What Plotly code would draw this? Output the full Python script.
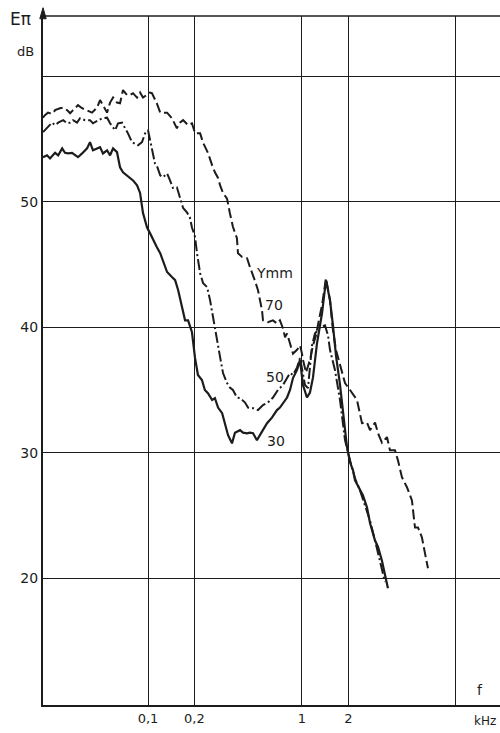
import math
import plotly.graph_objects as go

# ---- data (frequency in kHz, level in dB) ----
freq_70 = [0.0208, 0.0214, 0.0224, 0.0231, 0.0242, 0.0249, 0.0268, 0.0281, 0.0298, 0.0312,
           0.0326, 0.0351, 0.0373, 0.0402, 0.0433, 0.0467, 0.0488, 0.0510, 0.0542, 0.0567,
           0.0593, 0.0629, 0.0658, 0.0688, 0.0731, 0.0764, 0.0799, 0.0849, 0.0888, 0.0928,
           0.0986, 0.103, 0.106, 0.114, 0.120, 0.123, 0.133, 0.143, 0.154, 0.161,
           0.169, 0.182, 0.193, 0.202, 0.218, 0.228, 0.245, 0.261, 0.272, 0.285,
           0.294, 0.307, 0.326, 0.340, 0.356, 0.378, 0.384, 0.408, 0.440, 0.459,
           0.481, 0.495, 0.518, 0.533, 0.550, 0.558, 0.601, 0.648, 0.688, 0.719,
           0.753, 0.776, 0.800, 0.836, 0.874, 0.929, 0.971, 1.00, 1.015, 1.062,
           1.127, 1.179, 1.232, 1.309, 1.349, 1.410, 1.432, 1.520, 1.589, 1.662,
           1.766, 1.903, 2.051, 2.277, 2.453, 2.643, 2.765, 2.981, 3.118, 3.306,
           3.564, 3.727, 4.015, 4.199, 4.458, 4.805, 5.178, 5.418, 5.667, 6.012,
           6.290, 6.580]
db_70 = [56.7, 56.9, 57.1, 57.05, 57.05, 57.3, 57.45, 57.5, 57.3, 57.05,
         57.3, 57.7, 57.45, 57.3, 57.1, 57.5, 58.1, 57.7, 57.1, 57.9,
         58.3, 57.9, 57.85, 58.9, 58.5, 58.5, 58.65, 58.3, 58.7, 58.3,
         58.5, 58.7, 58.65, 57.85, 57.1, 57.1, 57.1, 56.65, 55.85, 56.3,
         56.5, 56.1, 56.25, 55.45, 55.45, 54.7, 53.9, 52.9, 52.35, 51.9,
         51.3, 50.7, 50.25, 49.1, 48.0, 47.1, 45.9, 45.6, 45.5, 44.8,
         44.0, 43.7, 42.95, 42.3, 41.35, 40.55, 40.4, 40.55, 40.3, 40.55,
         39.9, 39.2, 39.5, 38.7, 37.9, 38.2, 38.55, 37.9, 37.4, 36.4,
         37.4, 38.55, 39.35, 41.0, 41.75, 43.35, 43.9, 42.15, 39.75, 38.2,
         37.0, 35.55, 35.0, 34.2, 32.35, 32.4, 31.8, 32.4, 31.55, 30.8,
         31.25, 30.2, 30.2, 29.4, 28.05, 27.25, 26.2, 24.05, 24.05, 23.25,
         22.0, 20.8]

freq_50 = [0.0208, 0.0221, 0.0238, 0.0249, 0.0261, 0.0281, 0.0298, 0.0312, 0.0326, 0.0346,
           0.0362, 0.0390, 0.0420, 0.0439, 0.0474, 0.0503, 0.0542, 0.0567, 0.0611, 0.0639,
           0.0678, 0.0709, 0.0741, 0.0787, 0.0823, 0.0861, 0.0914, 0.0957, 0.100, 0.103,
           0.106, 0.111, 0.114, 0.120, 0.125, 0.133, 0.139, 0.145, 0.154, 0.161,
           0.169, 0.179, 0.187, 0.193, 0.202, 0.208, 0.218, 0.228, 0.242, 0.253,
           0.264, 0.272, 0.281, 0.294, 0.307, 0.326, 0.340, 0.356, 0.378, 0.396,
           0.427, 0.446, 0.481, 0.518, 0.558, 0.601, 0.648, 0.698, 0.753, 0.800,
           0.836, 0.874, 0.929, 0.971, 1.015, 1.046, 1.094, 1.162, 1.214, 1.309,
           1.410, 1.476, 1.520, 1.637, 1.766, 1.903, 2.051, 2.211, 2.381, 2.566,
           2.765, 2.981, 3.210, 3.458]
db_50 = [55.55, 55.9, 56.3, 56.1, 56.3, 56.5, 56.25, 56.3, 56.5, 56.3,
         56.65, 56.5, 56.5, 56.25, 56.5, 56.65, 56.7, 56.25, 55.7, 56.25,
         56.3, 55.9, 55.45, 54.75, 54.65, 54.5, 54.75, 55.45, 55.7, 54.9,
         54.35, 53.05, 52.9, 52.1, 51.95, 52.25, 51.7, 51.1, 51.15, 50.25,
         49.5, 49.15, 48.75, 47.95, 47.2, 45.9, 44.3, 43.5, 43.2, 42.15,
         40.8, 39.75, 38.8, 37.6, 36.35, 35.55, 35.2, 35.0, 34.4, 34.35,
         34.0, 33.6, 33.55, 33.4, 33.8, 34.0, 34.4, 35.0, 35.4, 35.95,
         36.35, 36.2, 36.8, 37.55, 36.2, 35.4, 35.15, 38.55, 39.5, 40.0,
         40.15, 39.35, 38.2, 36.6, 34.2, 31.0, 29.4, 27.95, 27.0, 25.8,
         24.6, 23.0, 21.4, 19.7]

freq_30 = [0.0208, 0.0221, 0.0231, 0.0249, 0.0261, 0.0277, 0.0289, 0.0303, 0.0321, 0.0336,
           0.0351, 0.0373, 0.0402, 0.0420, 0.0439, 0.0467, 0.0488, 0.0510, 0.0542, 0.0567,
           0.0593, 0.0629, 0.0658, 0.0688, 0.0731, 0.0764, 0.0799, 0.0849, 0.0888, 0.0928,
           0.0986, 0.103, 0.108, 0.114, 0.120, 0.125, 0.133, 0.143, 0.150, 0.157,
           0.166, 0.174, 0.182, 0.193, 0.202, 0.211, 0.224, 0.234, 0.245, 0.261,
           0.272, 0.285, 0.303, 0.316, 0.331, 0.351, 0.367, 0.396, 0.414, 0.440,
           0.459, 0.481, 0.510, 0.533, 0.558, 0.593, 0.638, 0.688, 0.719, 0.753,
           0.800, 0.836, 0.874, 0.929, 0.971, 1.015, 1.077, 1.127, 1.179, 1.251,
           1.349, 1.432, 1.520, 1.589, 1.662, 1.766, 1.846, 1.960, 2.051, 2.145,
           2.211, 2.381, 2.490, 2.643, 2.765, 2.981, 3.118, 3.306, 3.616]
db_30 = [53.55, 53.7, 53.45, 53.9, 53.7, 54.25, 53.9, 53.85, 53.9, 53.7,
         53.55, 53.85, 54.25, 54.75, 54.1, 54.25, 54.35, 53.85, 54.1, 53.7,
         54.25, 53.95, 52.75, 52.35, 52.1, 51.95, 51.7, 51.3, 50.7, 49.1,
         47.95, 47.5, 46.95, 46.4, 45.9, 45.35, 44.4, 44.0, 43.75, 42.95,
         41.75, 40.55, 40.55, 39.6, 37.55, 36.2, 35.8, 35.0, 34.75, 34.2,
         34.35, 33.6, 33.15, 32.2, 31.4, 30.75, 31.6, 31.8, 31.6, 31.55,
         31.6, 31.55, 31.0, 31.4, 31.8, 32.35, 32.8, 33.4, 33.6, 33.95,
         34.4, 35.0, 35.95, 36.6, 37.4, 35.4, 34.4, 34.8, 36.0, 38.7,
         41.1, 43.75, 42.15, 40.15, 37.75, 35.4, 33.4, 30.45, 29.25, 28.6,
         27.8, 27.0, 26.6, 25.65, 24.4, 23.0, 22.5, 21.4, 19.2]

x_tick_vals = [0.1, 0.2, 1, 2, 10]
x_tick_text = ["0,1", "0,2", "1", "2", " "]
y_tick_vals = [20, 30, 40, 50, 60]
y_tick_text = ["20", "30", "40", "50", " "]

curve_labels = ["Ymm", "70", "50", "30"]
label_freq = [0.66, 0.655, 0.665, 0.68]
label_db = [44.3, 41.75, 36.0, 30.9]

INK = "#1c1c1c"
FONT = "DejaVu Sans"

fig = go.Figure()
fig.add_trace(go.Scatter(x=freq_70, y=db_70, mode="lines",
                         line=dict(color=INK, width=2, dash="10px,4px")))
fig.add_trace(go.Scatter(x=freq_50, y=db_50, mode="lines",
                         line=dict(color=INK, width=2, dash="11px,3px,2px,3px")))
fig.add_trace(go.Scatter(x=freq_30, y=db_30, mode="lines",
                         line=dict(color=INK, width=2.2)))

for t, fx, fy in zip(curve_labels, label_freq, label_db):
    fig.add_annotation(x=math.log10(fx), y=fy, xref="x", yref="y", text=t, showarrow=False,
                       font=dict(family=FONT, size=14, color=INK),
                       xanchor="center", yanchor="middle")

# axis captions
captions = [("Eπ", -0.050, 0.995, 17), ("dB", -0.039, 0.949, 13),
            ("f", 0.956, 0.022, 14), ("kHz", 0.967, -0.023, 12)]
for t, px, py, fs in captions:
    fig.add_annotation(xref="paper", yref="paper", x=px, y=py, text=t, showarrow=False,
                       xanchor="center", yanchor="middle",
                       font=dict(family=FONT, size=fs, color=INK))

# frame: top border and arrow head on the level axis
fig.add_shape(type="line", xref="paper", yref="paper", x0=0, x1=1, y0=1, y1=1,
              line=dict(color=INK, width=1.5))
fig.add_shape(type="path", xref="paper", yref="paper",
              path="M 0,1.012 L -0.007,0.996 L 0.007,0.996 Z",
              fillcolor=INK, line=dict(color=INK, width=1))

fig.update_xaxes(type="log", range=[-1.682, 1.286], tickvals=x_tick_vals, ticktext=x_tick_text,
                 showgrid=True, gridcolor=INK, gridwidth=1.2, zeroline=False,
                 showline=True, linecolor=INK, linewidth=2, ticks="", automargin=False,
                 tickfont=dict(family=FONT, size=13, color=INK))
fig.update_yaxes(range=[9.9, 64.8], tickvals=y_tick_vals, ticktext=y_tick_text,
                 showgrid=True, gridcolor=INK, gridwidth=1.2, zeroline=False,
                 showline=True, linecolor=INK, linewidth=2, ticks="", automargin=False,
                 tickfont=dict(family=FONT, size=14, color=INK))

fig.update_layout(width=500, height=733, margin=dict(l=43, r=0, t=16, b=28, autoexpand=False),
                  paper_bgcolor="white", plot_bgcolor="white", showlegend=False)

fig.write_html("out.html", config={"displayModeBar": False},
               post_script="document.body.style.margin='0';document.body.style.overflow='hidden';")
